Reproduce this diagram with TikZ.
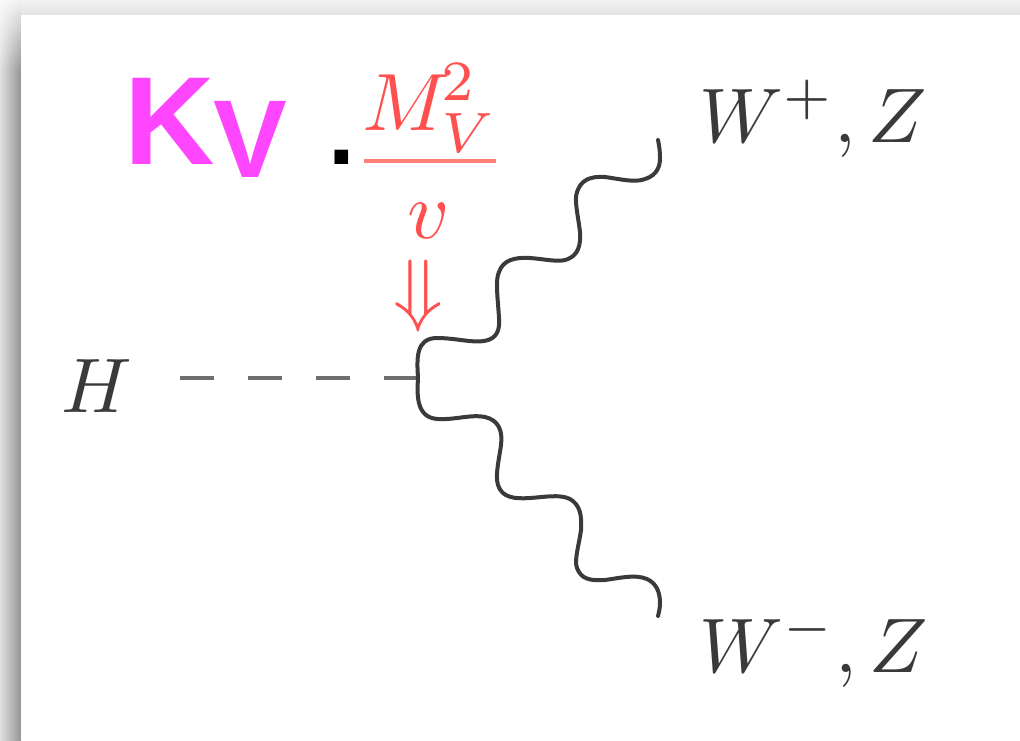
\documentclass[tikz,border=0pt]{standalone}
\usepackage{fontspec}
\setmainfont{Liberation Sans}
\definecolor{inkgray}{HTML}{3A3A3A}
\definecolor{softred}{HTML}{FF5050}
\definecolor{rulered}{HTML}{FF8078}
\definecolor{kvpink}{HTML}{FF46FF}
\definecolor{dashgray}{HTML}{6E6E6E}
\tikzset{
  mathlabel/.style={inner sep=0pt,scale=5.8,transform shape,text=inkgray},
  redlabel/.style={inner sep=0pt,scale=6.1,transform shape,text=softred},
  boson/.style={draw=inkgray,line width=3pt,line cap=round,line join=round},
  scalar/.style={draw=dashgray,line width=3pt,dash pattern=on 25.5pt off 25.5pt},
  fracbar/.style={draw=rulered,line width=3.6pt},
}
\begin{document}
\begin{tikzpicture}[x=0.75pt,y=-0.75pt]
\useasboundingbox (0,0) rectangle (1020,740);
% page shadow
\shade[left color=black!12,right color=black!42,draw=none] (0,70) rectangle (21,740);
\foreach \yy in {0,2,...,68}{
  \pgfmathsetmacro{\yb}{\yy+2.5}
  \pgfmathsetmacro{\pa}{2+\yy/70*10}
  \pgfmathsetmacro{\pb}{6+\yy/70*36}
  \shade[left color=black!\pa,right color=black!\pb,draw=none] (0,\yy) rectangle (21,\yb);
}
\shade[top color=black!5,bottom color=black!11,draw=none] (21,0) rectangle (1020,15);
\fill[white] (21,15) rectangle (1020,740);
% labels
\node[anchor=base west,inner sep=0pt,text=kvpink] (kappa) at (124,164) {\fontsize{94}{94}\selectfont\bfseries K};
\node[anchor=base west,inner sep=0pt,text=kvpink] (vsub) at (213,177) {\fontsize{83}{83}\selectfont\bfseries V};
\node[anchor=base west,inner sep=0pt,text=black] (dot) at (328,164) {\fontsize{72}{72}\selectfont\bfseries .};
\node[redlabel,anchor=base west] (massnum) at (361,130) {$M\mkern-2mu{}_V^2$};
\node[redlabel,anchor=base] (vev) at (429,238) {$v$};
\coordinate (barleft) at (364,161);
\coordinate (barright) at (496,161);
\draw[fracbar] (barleft) -- (barright);
\node[redlabel,anchor=center] (arrowdown) at (418,296) {$\Downarrow$};
\node[mathlabel,anchor=base] (higgs) at (97,412) {$H$};
\node[mathlabel,anchor=base west] (wplus) at (698,142) {$W^+,Z$};
\node[mathlabel,anchor=base west] (wminus) at (698,672) {$W^-,Z$};
\coordinate (vertex) at (418,378);
\coordinate (dashstart) at (180,378);
\coordinate (upend) at (658,140);
\coordinate (downend) at (658,616);
% propagators
\draw[scalar] (dashstart) -- (vertex);
\draw[boson] (vertex)
  .. controls (417,360) and (415,338) .. (437,338)
  .. controls (455,338) and (472,343) .. (484,341)
  .. controls (497,339) and (500,330) .. (499,318)
  .. controls (498,300) and (495,280) .. (499,272)
  .. controls (503,260) and (515,257) .. (530,258)
  .. controls (545,259) and (560,263) .. (568,259)
  .. controls (578,255) and (581,245) .. (580,232)
  .. controls (578,215) and (574,200) .. (577,192)
  .. controls (581,180) and (590,176) .. (605,177)
  .. controls (620,179) and (635,183) .. (645,179)
  .. controls (658,175) and (660,165) .. (660,158)
  .. controls (660,150) and (659,145) .. (upend);
\draw[boson] (vertex)
  .. controls (417,395) and (416,418) .. (438,419)
  .. controls (455,420) and (472,414) .. (485,417)
  .. controls (498,420) and (503,430) .. (501,445)
  .. controls (499,460) and (495,475) .. (498,485)
  .. controls (502,498) and (515,499) .. (530,498)
  .. controls (545,497) and (560,494) .. (570,499)
  .. controls (580,505) and (582,515) .. (581,530)
  .. controls (579,545) and (574,560) .. (577,568)
  .. controls (581,579) and (590,581) .. (605,580)
  .. controls (620,578) and (635,574) .. (647,579)
  .. controls (658,584) and (660,595) .. (660,603)
  .. controls (660,608) and (659,612) .. (downend);
\end{tikzpicture}
\end{document}
